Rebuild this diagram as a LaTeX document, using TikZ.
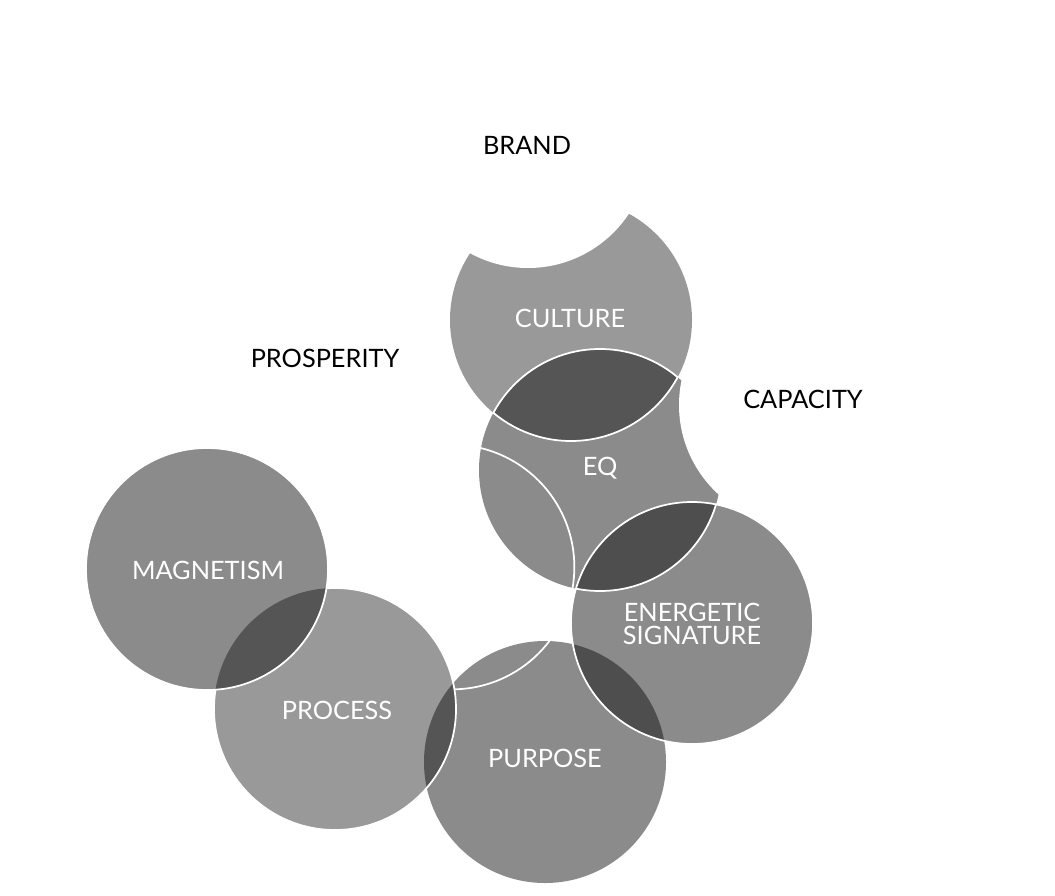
\documentclass[tikz,border=0pt]{standalone}
\usepackage{fontspec}
\setmainfont{Lato}
\definecolor{gA}{HTML}{999999}
\definecolor{gB}{HTML}{8B8B8B}
\definecolor{dA}{HTML}{555555}
\definecolor{dB}{HTML}{4E4E4E}
\tikzset{
  wline/.style={draw=white, line width=1.3pt},
  lab/.style={font=\fontsize{19}{17}\selectfont, text=white, align=center, inner sep=0pt},
  blab/.style={font=\fontsize{19}{17}\selectfont, text=black, align=center, inner sep=0pt}
}
\def\R{90.75pt}
\begin{document}
\begin{tikzpicture}[x=0.75pt,y=-0.75pt]
\useasboundingbox (0,0) rectangle (1055,895);
% centres
\coordinate (cBrand) at (528,147);
\coordinate (cCult) at (571,320);
\coordinate (cEq) at (600,470);
\coordinate (cCap) at (800,405);
\coordinate (cEne) at (692,623);
\coordinate (cPur) at (545,762);
\coordinate (cProc) at (335,709);
\coordinate (cMag) at (207,569);
\coordinate (cHub) at (452,567);
% base fills
\fill[gB] (cPur) circle[radius=\R];
\fill[gB] (cEq) circle[radius=\R];
\fill[gA] (cCult) circle[radius=\R];
% hub outline
\draw[wline] (cHub) circle[radius=\R+1pt];
% culture / eq lens
\begin{scope}
  \clip (cCult) circle[radius=\R];
  \fill[dA] (cEq) circle[radius=\R];
  \draw[wline] (cEq) circle[radius=\R];
\end{scope}
\begin{scope}
  \clip (cEq) circle[radius=\R];
  \draw[wline] (cCult) circle[radius=\R];
\end{scope}
% energetic signature
\fill[gB] (cEne) circle[radius=\R];
\begin{scope}
  \clip (cPur) circle[radius=\R];
  \fill[dB] (cEne) circle[radius=\R];
\end{scope}
\begin{scope}
  \clip (cEq) circle[radius=\R];
  \fill[dB] (cEne) circle[radius=\R];
\end{scope}
\draw[wline] (cEne) circle[radius=\R];
\begin{scope}
  \clip (cEne) circle[radius=\R];
  \draw[wline] (cEq) circle[radius=\R];
\end{scope}
% process
\fill[gA] (cProc) circle[radius=\R];
\begin{scope}
  \clip (cPur) circle[radius=\R];
  \fill[dA] (cProc) circle[radius=\R];
\end{scope}
\draw[wline] (cProc) circle[radius=\R];
% magnetism
\fill[gB] (cMag) circle[radius=\R];
\begin{scope}
  \clip (cProc) circle[radius=\R];
  \fill[dA] (cMag) circle[radius=\R];
\end{scope}
\draw[wline] (cMag) circle[radius=\R];
% white circles
\fill[white] (cBrand) circle[radius=\R];
\fill[white] (cCap) circle[radius=\R];
% labels
\node[blab] (brand) at (527,145) {BRAND};
\node[blab] (pros) at (325,358) {PROSPERITY};
\node[blab] (cap) at (803,399) {CAPACITY};
\node[lab] (cult) at (570,318) {CULTURE};
\node[lab] (eq) at (600,468) {EQ};
\node[lab] (ene) at (692,624) {ENERGETIC\\SIGNATURE};
\node[lab] (pur) at (545,758) {PURPOSE};
\node[lab] (proc) at (337,710) {PROCESS};
\node[lab] (mag) at (208,570) {MAGNETISM};
\end{tikzpicture}
\end{document}
